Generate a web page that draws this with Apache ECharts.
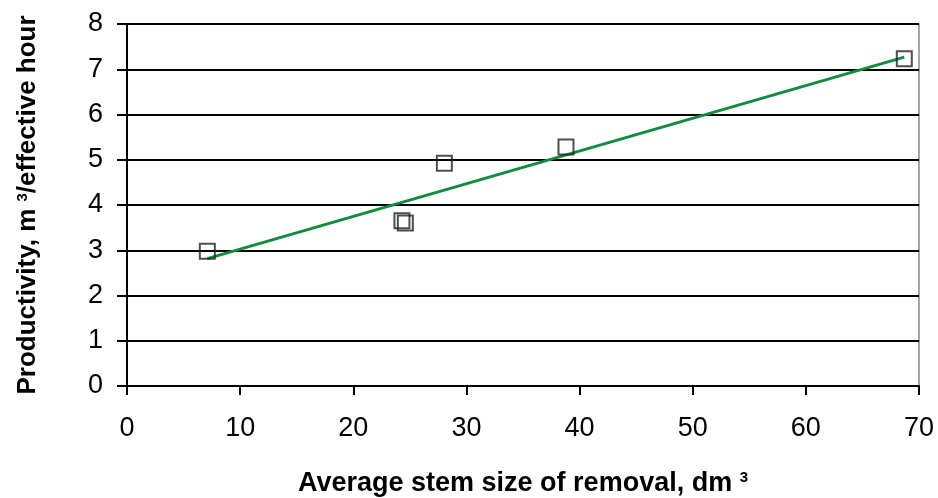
<!DOCTYPE html>
<html>
<head>
<meta charset="utf-8">
<script src="https://cdn.jsdelivr.net/npm/echarts@6/dist/echarts.min.js"></script>
<style>
  html, body { margin: 0; padding: 0; background: #fff; }
  #chart { width: 938px; height: 498px; }
</style>
</head>
<body>
<div id="chart"></div>
<script>
// stem size (dm3) vs productivity (m3/effective hour)
var stemSize = [7.1, 24.3, 24.6, 28.05, 38.8, 68.7]
var productivity = [2.98, 3.65, 3.6, 4.92, 5.28, 7.23]
var xTicks = [0, 10, 20, 30, 40, 50, 60, 70]
var yTicks = [0, 1, 2, 3, 4, 5, 6, 7, 8]

// linear trend line, least squares over the points
function trend(xs, ys) {
  var n = xs.length
  var mx = 0, my = 0
  for (var i = 0; i < n; i++) { mx += xs[i]; my += ys[i] }
  mx /= n; my /= n
  var sxy = 0, sxx = 0
  for (var j = 0; j < n; j++) {
    sxy += (xs[j] - mx) * (ys[j] - my)
    sxx += (xs[j] - mx) * (xs[j] - mx)
  }
  var b = sxy / sxx
  var a = my - b * mx
  var x0 = Math.min.apply(null, xs)
  var x1 = Math.max.apply(null, xs)
  return [[x0, a + b * x0], [x1, a + b * x1]]
}

var points = stemSize.map(function (x, i) { return [x, productivity[i]] })
var font = 'Liberation Sans, Arial, sans-serif'
var supStyle = { fontSize: 15, fontWeight: 'bold', verticalAlign: 'top', lineHeight: 15, padding: [0, 0, 16, 0], fontFamily: font }

var chart = echarts.init(document.getElementById('chart'))
chart.setOption({
  animation: false,
  grid: {
    left: 127,
    right: 19,
    top: 24,
    bottom: 112,
    outerBoundsMode: 'none',
    containLabel: false,
    show: true,
    borderColor: '#888',
    borderWidth: 1.5
  },
  xAxis: {
    type: 'value',
    min: xTicks[0],
    max: xTicks[xTicks.length - 1],
    interval: 10,
    name: 'Average stem size of removal, dm {sup|3}',
    nameLocation: 'middle',
    nameGap: 84,
    nameTextStyle: {
      fontFamily: font,
      fontSize: 27,
      fontWeight: 'bold',
      color: '#000',
      rich: { sup: supStyle }
    },
    axisLine: { lineStyle: { color: '#000', width: 2 } },
    axisTick: { show: true, length: 9, lineStyle: { color: '#000', width: 2 } },
    axisLabel: { fontFamily: font, fontSize: 27, color: '#000', margin: 29 },
    splitLine: { show: false }
  },
  yAxis: {
    type: 'value',
    min: yTicks[0],
    max: yTicks[yTicks.length - 1],
    interval: 1,
    name: 'Productivity, m {sup|3}/effective hour',
    nameLocation: 'middle',
    nameGap: 86,
    nameTextStyle: {
      fontFamily: font,
      fontSize: 26,
      fontWeight: 'bold',
      color: '#000',
      rich: { sup: supStyle }
    },
    axisLine: { show: true, lineStyle: { color: '#000', width: 2 } },
    axisTick: { show: true, length: 10, lineStyle: { color: '#000', width: 2 } },
    axisLabel: { fontFamily: font, fontSize: 27, color: '#000', margin: 24 },
    splitLine: { show: true, lineStyle: { color: '#000', width: 2 } }
  },
  series: [
    {
      name: 'Trend',
      type: 'line',
      data: trend(stemSize, productivity),
      symbol: 'none',
      lineStyle: { color: '#118c3f', width: 3 },
      z: 3
    },
    {
      name: 'Productivity',
      type: 'scatter',
      data: points,
      symbol: 'rect',
      symbolSize: 15,
      itemStyle: { color: 'rgba(255,255,255,0)', borderColor: '#222', borderWidth: 2 },
      z: 4
    }
  ]
})
</script>
</body>
</html>
